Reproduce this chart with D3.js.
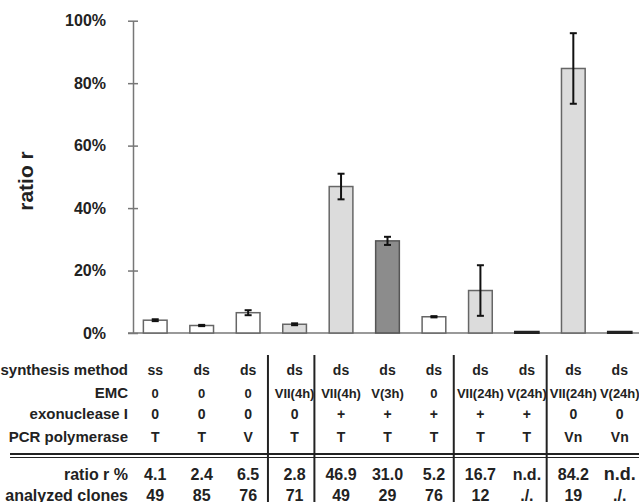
<!DOCTYPE html>
<html>
<head>
<meta charset="utf-8">
<script src="https://cdn.jsdelivr.net/npm/d3@7/dist/d3.min.js"></script>
<style>
  html, body { margin: 0; padding: 0; background: #fff; }
  svg { display: block; }
  .tbl { font-family: "Liberation Sans", Arial, sans-serif; font-weight: bold; fill: #222; }
  .ax { font-family: "Liberation Sans", Arial, sans-serif; font-weight: bold; fill: #222; }
</style>
</head>
<body>
<svg id="chart" width="639" height="502"></svg>
<script>
// ---- data ----
const categories = ["c1","c2","c3","c4","c5","c6","c7","c8","c9","c10","c11"];
const barValues  = [4.1, 2.4, 6.5, 2.8, 46.9, 29.5, 5.2, 13.6, 0.4, 84.7, 0.4];
const errValues  = [0.3, 0.2, 0.8, 0.3, 4.1, 1.3, 0.2, 8.1, 0, 11.3, 0];
const synthesis  = ["ss","ds","ds","ds","ds","ds","ds","ds","ds","ds","ds"];
const emc        = ["0","0","0","VII(4h)","VII(4h)","V(3h)","0","VII(24h)","V(24h)","VII(24h)","V(24h)"];
const exonuclease= ["0","0","0","0","+","+","+","+","+","0","0"];
const polymerase = ["T","T","V","T","T","T","T","T","T","Vn","Vn"];
const ratioText  = ["4.1","2.4","6.5","2.8","46.9","31.0","5.2","16.7","n.d.","84.2","n.d."];
const clonesText = ["49","85","76","71","49","29","76","12","./.","19","./."];
const yTicks     = [0, 20, 40, 60, 80, 100];
const rowLabels  = ["synthesis method","EMC","exonuclease I","PCR polymerase"];
const groupBreaks = [3, 4, 7, 9]; // table separators after these column counts

// ---- scales ----
const svg = d3.select("#chart");
const x = d3.scaleBand().domain(categories).range([132, 643]).paddingInner(0.49).paddingOuter(0.245);
const y = d3.scaleLinear().domain([0, 100]).range([333, 20.7]);

const enzymeKey = d => d.startsWith("VII") ? "VII" : (d.startsWith("V(") ? (d.includes("24h") ? "V24" : "V") : "none");
const fill = d3.scaleOrdinal().domain(["none","VII","V","V24"]).range(["#ffffff","#dcdcdc","#8c8c8c","#dcdcdc"]);
const stroke = d3.scaleOrdinal().domain(["none","VII","V","V24"]).range(["#666","#666","#555","#222"]);

// ---- axis ----
const axis = d3.axisLeft(y).tickValues(yTicks).tickFormat(d => d + "%").tickSize(0).tickPadding(27);
const gA = svg.append("g").attr("transform", "translate(133,0)").call(axis);
gA.select(".domain").attr("stroke", "#777").attr("stroke-width", 1.5);
gA.selectAll(".tick text").attr("class", "ax").style("font-size", "16px").attr("fill", "#222");
gA.selectAll(".tick").append("line").attr("x1", -5).attr("x2", 5).attr("stroke", "#777").attr("stroke-width", 1.5);

// baseline
svg.append("line").attr("x1", 128).attr("x2", 639).attr("y1", y(0)).attr("y2", y(0))
  .attr("stroke", "#777").attr("stroke-width", 1.5);

// axis title
svg.append("text").attr("class", "ax").attr("transform", "translate(33,181) rotate(-90)")
  .attr("text-anchor", "middle").style("font-size", "21px").text("ratio r");

// ---- bars ----
const bars = categories.map((c, i) => ({c, v: barValues[i], e: errValues[i], k: enzymeKey(emc[i])}));
svg.append("g").selectAll("rect").data(bars).join("rect")
  .attr("x", d => x(d.c)).attr("width", x.bandwidth())
  .attr("y", d => y(d.v)).attr("height", d => y(0) - y(d.v))
  .attr("fill", d => fill(d.k)).attr("stroke", d => stroke(d.k))
  .attr("stroke-width", d => d.k === "V24" ? 2 : 1.5);

// error bars
const eb = svg.append("g").selectAll("g").data(bars.filter(d => d.e > 0)).join("g")
  .attr("transform", d => `translate(${x(d.c) + x.bandwidth() / 2},0)`);
eb.append("line").attr("y1", d => y(d.v + d.e)).attr("y2", d => y(d.v - d.e))
  .attr("stroke", "#111").attr("stroke-width", 2);
eb.append("line").attr("x1", -3.5).attr("x2", 3.5).attr("y1", d => y(d.v + d.e)).attr("y2", d => y(d.v + d.e))
  .attr("stroke", "#111").attr("stroke-width", 2);
eb.append("line").attr("x1", -3.5).attr("x2", 3.5).attr("y1", d => y(d.v - d.e)).attr("y2", d => y(d.v - d.e))
  .attr("stroke", "#111").attr("stroke-width", 2);

// ---- table ----
const cx = c => x(c) + x.bandwidth() / 2;
const rowY = [375, 398, 419, 441.5];
const rowData = [synthesis, emc, exonuclease, polymerase];
const tbl = svg.append("g");
rowLabels.forEach((lab, r) => {
  tbl.append("text").attr("class", "tbl").attr("x", 128).attr("y", rowY[r])
    .attr("text-anchor", "end").style("font-size", "15px").text(lab);
  tbl.selectAll(null).data(categories).join("text").attr("class", "tbl")
    .attr("x", cx).attr("y", rowY[r]).attr("text-anchor", "middle")
    .style("font-size", r === 1 ? "13px" : "14px").text((c, i) => rowData[r][i]);
});
const lowRows = [["ratio r %", ratioText, 480], ["analyzed clones", clonesText, 500.5]];
lowRows.forEach(([lab, vals, yy]) => {
  tbl.append("text").attr("class", "tbl").attr("x", 128).attr("y", yy)
    .attr("text-anchor", "end").style("font-size", "16px").text(lab);
  tbl.selectAll(null).data(categories).join("text").attr("class", "tbl")
    .attr("x", cx).attr("y", yy).attr("text-anchor", "middle")
    .style("font-size", (c, i) => (i === 10 && vals[i] === "n.d.") ? "18px" : "16px").text((c, i) => vals[i]);
});

// double rule
tbl.append("line").attr("x1", 10).attr("x2", 639).attr("y1", 454).attr("y2", 454).attr("stroke", "#222").attr("stroke-width", 2);
tbl.append("line").attr("x1", 10).attr("x2", 639).attr("y1", 457.5).attr("y2", 457.5).attr("stroke", "#222").attr("stroke-width", 1);

// vertical separators between groups
const gap = x.step() - x.bandwidth();
groupBreaks.forEach(b => {
  const xb = x(categories[b]) - gap * 0.65;
  tbl.append("line").attr("x1", xb).attr("x2", xb).attr("y1", 355).attr("y2", 502)
    .attr("stroke", "#222").attr("stroke-width", 2);
});
</script>
</body>
</html>
